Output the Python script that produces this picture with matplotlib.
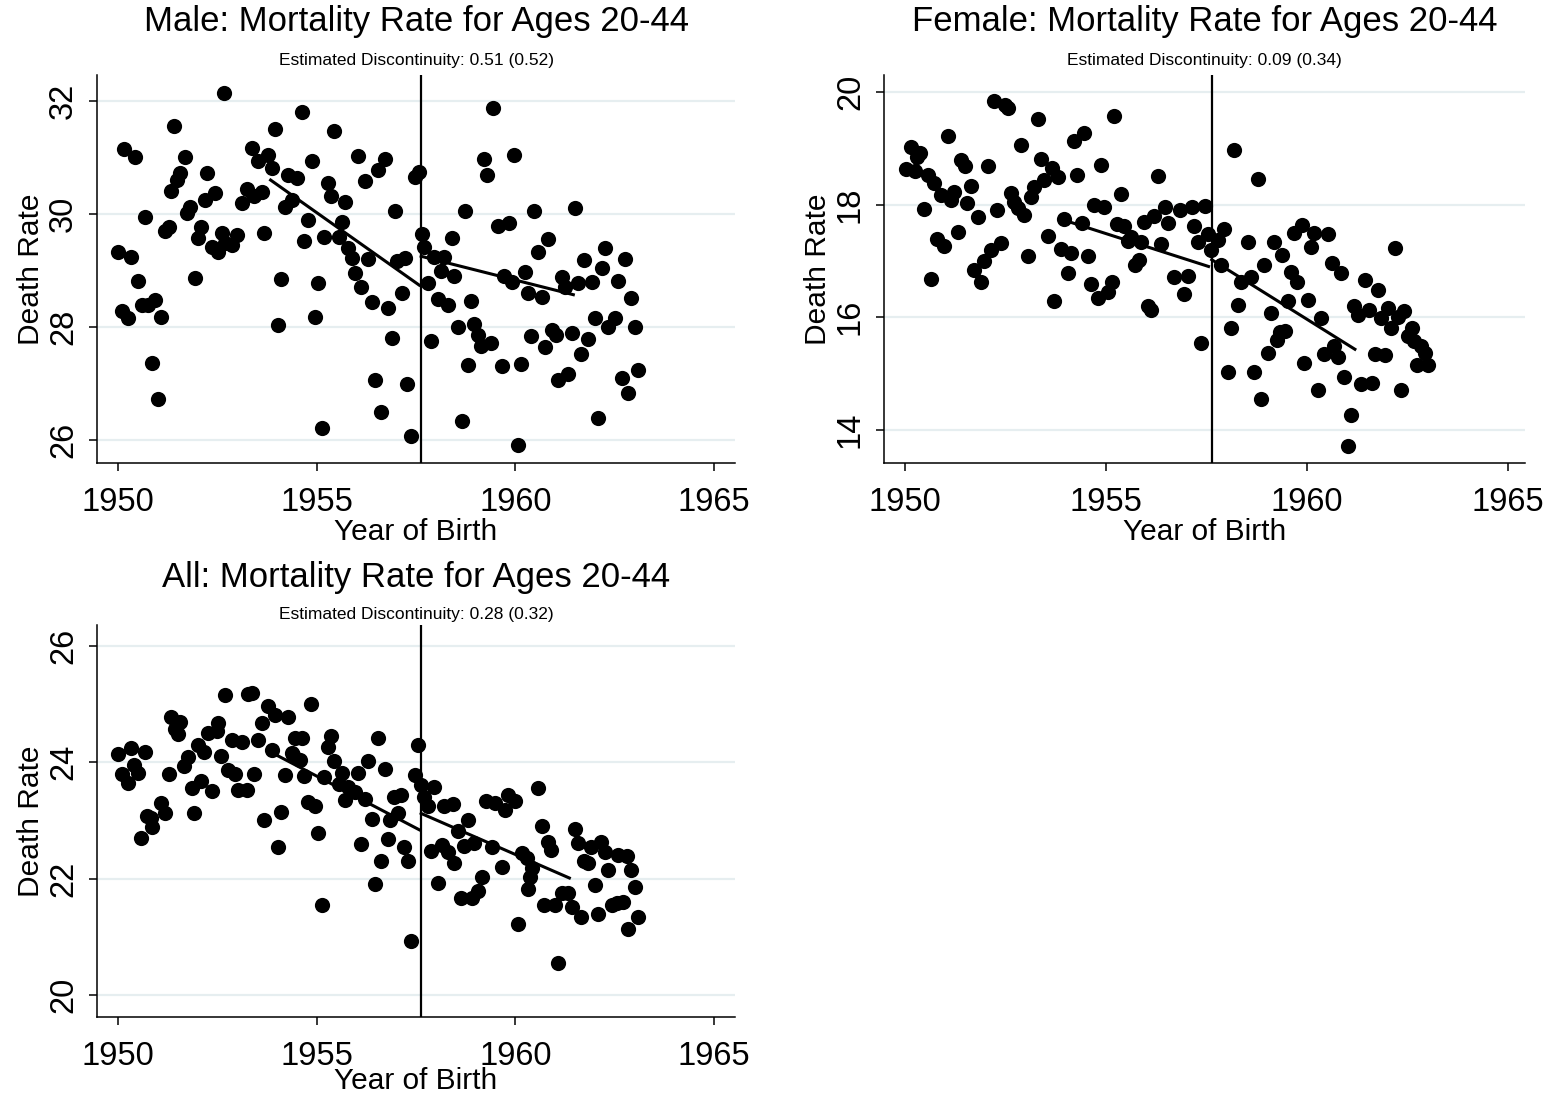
import matplotlib
matplotlib.use("Agg")
import matplotlib.pyplot as plt

plt.rcParams['font.family'] = ['Liberation Sans', 'DejaVu Sans']

# ---------------- data ----------------
male_x = [1950.0, 1950.09, 1950.16, 1950.26, 1950.32, 1950.43, 1950.51, 1950.60, 1950.68, 1950.76,
          1950.85, 1950.93, 1951.0, 1951.09, 1951.18, 1951.29, 1951.33, 1951.42, 1951.48, 1951.56,
          1951.69, 1951.74, 1951.81, 1951.94, 1952.0, 1952.08, 1952.19, 1952.25, 1952.36, 1952.44,
          1952.52, 1952.61, 1952.67, 1952.69, 1952.86, 1953.0, 1953.11, 1953.24, 1953.36, 1953.41,
          1953.53, 1953.63, 1953.68, 1953.78, 1953.87, 1953.95, 1954.03, 1954.1, 1954.2, 1954.29,
          1954.37, 1954.5, 1954.62, 1954.69, 1954.79, 1954.87, 1954.96, 1955.04, 1955.13, 1955.19,
          1955.29, 1955.36, 1955.44, 1955.55, 1955.63, 1955.71, 1955.8, 1955.88, 1955.97, 1956.05,
          1956.12, 1956.22, 1956.3, 1956.39, 1956.47, 1956.54, 1956.62, 1956.72, 1956.79, 1956.89,
          1956.97, 1957.01, 1957.14, 1957.22, 1957.28, 1957.37, 1957.48, 1957.58, 1957.64, 1957.71,
          1957.79, 1957.88, 1957.96, 1958.05, 1958.13, 1958.21, 1958.31, 1958.4, 1958.46, 1958.55,
          1958.65, 1958.73, 1958.82, 1958.89, 1958.97, 1959.07, 1959.14, 1959.22, 1959.28, 1959.45,
          1959.4, 1959.57, 1959.66, 1959.72, 1959.84, 1959.91, 1959.97, 1960.08, 1960.14, 1960.24,
          1960.33, 1960.40, 1960.48, 1960.56, 1960.66, 1960.75, 1960.83, 1960.92, 1961.02, 1961.08,
          1961.17, 1961.25, 1961.33, 1961.42, 1961.5, 1961.59, 1961.65, 1961.74, 1961.84, 1961.92,
          1962.01, 1962.09, 1962.17, 1962.26, 1962.34, 1962.51, 1962.59, 1962.68, 1962.76, 1962.84,
          1962.91, 1963.01, 1963.1]
male_y = [29.33, 28.29, 31.15, 28.16, 29.24, 31.0, 28.81, 28.39, 29.94, 28.38,
          27.36, 28.48, 26.72, 28.17, 29.70, 29.76, 30.41, 31.55, 30.6, 30.72,
          31.0, 30.01, 30.12, 28.87, 29.58, 29.76, 30.24, 30.72, 29.42, 30.37,
          29.33, 29.67, 32.15, 29.48, 29.45, 29.63, 30.2, 30.45, 31.17, 30.31,
          30.93, 30.38, 29.66, 31.04, 30.81, 31.50, 28.04, 28.84, 30.13, 30.69,
          30.25, 30.63, 31.81, 29.52, 29.89, 30.94, 28.18, 28.78, 26.21, 29.60,
          30.54, 30.32, 31.47, 29.59, 29.85, 30.22, 29.39, 29.22, 28.96, 31.03,
          28.7, 30.58, 29.2, 28.44, 27.06, 30.78, 26.49, 30.97, 28.33, 27.81,
          30.05, 29.16, 28.60, 29.22, 26.99, 26.06, 30.66, 30.74, 29.65, 29.42,
          28.77, 27.75, 29.24, 28.5, 28.99, 29.24, 28.39, 29.57, 28.9, 27.99,
          26.34, 30.05, 27.32, 28.45, 28.05, 27.86, 27.67, 30.97, 30.69, 31.87,
          27.71, 29.79, 27.30, 28.9, 29.84, 28.80, 31.04, 25.90, 27.35, 28.98,
          28.6, 27.83, 30.05, 29.33, 28.53, 27.64, 29.55, 27.95, 27.86, 27.06,
          28.89, 28.71, 27.16, 27.89, 30.10, 28.78, 27.52, 29.19, 27.78, 28.80,
          28.15, 26.38, 29.05, 29.40, 28.0, 28.15, 28.81, 27.09, 29.20, 26.83,
          28.51, 27.99, 27.23]

female_x = [1950.02, 1950.15, 1950.25, 1950.29, 1950.37, 1950.47, 1950.58, 1950.65, 1950.73, 1950.81,
            1950.9, 1950.98, 1951.06, 1951.14, 1951.23, 1951.31, 1951.39, 1951.49, 1951.55, 1951.64,
            1951.72, 1951.81, 1951.89, 1951.97, 1952.06, 1952.14, 1952.22, 1952.30, 1952.39, 1952.49,
            1952.57, 1952.64, 1952.72, 1952.82, 1952.89, 1952.97, 1953.05, 1953.13, 1953.22, 1953.30,
            1953.38, 1953.47, 1953.55, 1953.65, 1953.71, 1953.81, 1953.87, 1953.96, 1954.06, 1954.13,
            1954.21, 1954.29, 1954.40, 1954.46, 1954.56, 1954.63, 1954.71, 1954.81, 1954.88, 1954.96,
            1955.06, 1955.14, 1955.21, 1955.27, 1955.37, 1955.46, 1955.54, 1955.62, 1955.71, 1955.81,
            1955.87, 1955.95, 1956.04, 1956.12, 1956.2, 1956.29, 1956.37, 1956.47, 1956.53, 1956.70,
            1956.84, 1956.95, 1957.03, 1957.13, 1957.20, 1957.28, 1957.36, 1957.45, 1957.53, 1957.61,
            1957.78, 1957.86, 1957.94, 1958.03, 1958.11, 1958.19, 1958.29, 1958.36, 1958.53, 1958.61,
            1958.69, 1958.77, 1958.86, 1958.94, 1959.02, 1959.10, 1959.19, 1959.25, 1959.33, 1959.37,
            1959.45, 1959.52, 1959.60, 1959.68, 1959.74, 1959.87, 1959.93, 1960.02, 1960.10, 1960.18,
            1960.27, 1960.35, 1960.43, 1960.51, 1960.61, 1960.68, 1960.78, 1960.85, 1960.93, 1961.01,
            1961.09, 1961.18, 1961.26, 1961.34, 1961.44, 1961.53, 1961.61, 1961.68, 1961.76, 1961.84,
            1961.94, 1962.01, 1962.09, 1962.19, 1962.26, 1962.34, 1962.42, 1962.50, 1962.60, 1962.67,
            1962.73, 1962.84, 1962.94, 1963.02]
female_y = [18.63, 19.03, 18.59, 18.84, 18.91, 17.92, 18.53, 16.68, 18.39, 17.38,
            18.17, 17.27, 19.21, 18.08, 18.23, 17.51, 18.79, 18.69, 18.03, 18.33,
            16.83, 17.77, 16.63, 17.0, 18.69, 17.20, 19.83, 17.91, 17.32, 19.77,
            19.71, 18.20, 18.05, 17.93, 19.06, 17.82, 17.09, 18.14, 18.31, 19.52,
            18.80, 18.43, 17.44, 18.65, 16.29, 18.49, 17.21, 17.74, 16.78, 17.14,
            19.12, 18.53, 17.67, 19.27, 17.08, 16.59, 18.0, 16.34, 18.70, 17.95,
            16.44, 16.63, 19.57, 17.66, 18.19, 17.62, 17.36, 17.43, 16.93, 17.02,
            17.33, 17.69, 16.19, 16.13, 17.80, 18.51, 17.30, 17.95, 17.68, 16.71,
            17.91, 16.41, 16.73, 17.95, 17.61, 17.34, 15.54, 17.98, 17.47, 17.19,
            17.37, 16.92, 17.56, 15.02, 15.81, 18.96, 16.22, 16.63, 17.34, 16.72,
            15.02, 18.45, 14.54, 16.92, 15.36, 16.07, 17.34, 15.60, 15.74, 17.11,
            15.76, 16.29, 16.81, 17.49, 16.63, 17.64, 15.19, 16.31, 17.24, 17.49,
            14.70, 15.98, 15.35, 17.48, 16.96, 15.48, 15.29, 16.78, 14.93, 13.72,
            14.26, 16.19, 16.04, 14.82, 16.66, 16.13, 14.83, 15.35, 16.48, 15.99,
            15.32, 16.16, 15.80, 17.23, 16.01, 14.70, 16.11, 15.66, 15.80, 15.57,
            15.15, 15.48, 15.37, 15.15]

all_x = [1950.01, 1950.09, 1950.24, 1950.33, 1950.41, 1950.51, 1950.58, 1950.68, 1950.72, 1950.83,
         1950.85, 1951.08, 1951.18, 1951.27, 1951.33, 1951.43, 1951.50, 1951.56, 1951.67, 1951.77,
         1951.85, 1951.92, 1952.0, 1952.09, 1952.17, 1952.27, 1952.36, 1952.48, 1952.52, 1952.59,
         1952.68, 1952.78, 1952.86, 1952.95, 1953.01, 1953.11, 1953.24, 1953.26, 1953.36, 1953.43,
         1953.53, 1953.62, 1953.68, 1953.78, 1953.87, 1953.95, 1954.03, 1954.10, 1954.19, 1954.29,
         1954.37, 1954.41, 1954.46, 1954.58, 1954.62, 1954.69, 1954.77, 1954.86, 1954.96, 1955.04,
         1955.13, 1955.19, 1955.28, 1955.36, 1955.44, 1955.55, 1955.63, 1955.72, 1955.8, 1955.97,
         1956.05, 1956.12, 1956.22, 1956.3, 1956.39, 1956.47, 1956.54, 1956.62, 1956.72, 1956.79,
         1956.85, 1956.95, 1957.04, 1957.12, 1957.21, 1957.29, 1957.37, 1957.48, 1957.56, 1957.63,
         1957.71, 1957.79, 1957.88, 1957.96, 1958.05, 1958.15, 1958.21, 1958.31, 1958.42, 1958.46,
         1958.55, 1958.63, 1958.72, 1958.82, 1958.9, 1958.97, 1959.05, 1959.15, 1959.25, 1959.41,
         1959.49, 1959.66, 1959.74, 1959.82, 1959.99, 1960.08, 1960.16, 1960.29, 1960.33, 1960.37,
         1960.41, 1960.56, 1960.66, 1960.73, 1960.83, 1960.90, 1961.0, 1961.08, 1961.17, 1961.33,
         1961.42, 1961.50, 1961.57, 1961.65, 1961.74, 1961.84, 1961.9, 1962.01, 1962.09, 1962.16,
         1962.26, 1962.34, 1962.43, 1962.55, 1962.59, 1962.72, 1962.80, 1962.84, 1962.91, 1963.01,
         1963.10]
all_y = [24.14, 23.80, 23.64, 24.24, 23.95, 23.81, 22.69, 24.17, 23.07, 23.05,
         22.89, 23.30, 23.12, 23.80, 24.77, 24.57, 24.48, 24.70, 23.94, 24.09,
         23.55, 23.12, 24.30, 23.67, 24.18, 24.50, 23.51, 24.53, 24.68, 24.11,
         25.16, 23.87, 24.38, 23.80, 23.52, 24.35, 23.52, 25.17, 25.19, 23.79,
         24.38, 24.68, 23.0, 24.96, 24.21, 24.81, 22.55, 23.15, 23.78, 24.78,
         24.16, 24.13, 24.41, 24.04, 24.41, 23.77, 23.32, 25.01, 23.24, 22.79,
         21.55, 23.74, 24.27, 24.45, 24.02, 23.63, 23.81, 23.35, 23.57, 23.49,
         23.81, 22.59, 23.36, 24.02, 23.02, 21.91, 24.42, 22.30, 23.89, 22.68,
         23.01, 23.41, 23.13, 23.44, 22.55, 22.30, 20.93, 23.78, 24.30, 23.61,
         23.41, 23.24, 22.48, 23.58, 21.93, 22.58, 23.25, 22.46, 23.28, 22.26,
         22.81, 21.67, 22.56, 23.01, 21.66, 22.62, 21.78, 22.02, 23.34, 22.55,
         23.30, 22.20, 23.18, 23.44, 23.34, 21.22, 22.44, 22.36, 21.82, 22.03,
         22.18, 23.56, 22.91, 21.54, 22.63, 22.49, 21.55, 20.55, 21.75, 21.75,
         21.51, 22.85, 22.62, 21.34, 22.30, 22.27, 22.55, 21.89, 21.39, 22.63,
         22.45, 22.15, 21.55, 21.58, 22.41, 21.59, 22.38, 21.13, 22.15, 21.85,
         21.34]

cutoff = 1957.625

male_fit_left_x = [1953.84, 1957.58]
male_fit_left_y = [30.60, 28.74]
male_fit_right_x = [1957.63, 1961.46]
male_fit_right_y = [29.25, 28.57]

female_fit_left_x = [1953.88, 1957.55]
female_fit_left_y = [17.74, 16.90]
female_fit_right_x = [1957.63, 1961.19]
female_fit_right_y = [17.02, 15.43]

all_fit_left_x = [1953.83, 1957.58]
all_fit_left_y = [24.18, 22.84]
all_fit_right_x = [1957.63, 1961.36]
all_fit_right_y = [23.12, 22.01]

titles = ["Male: Mortality Rate for Ages 20-44",
          "Female: Mortality Rate for Ages 20-44",
          "All: Mortality Rate for Ages 20-44"]
subtitles = ["Estimated Discontinuity: 0.51 (0.52)",
             "Estimated Discontinuity: 0.09 (0.34)",
             "Estimated Discontinuity: 0.28 (0.32)"]
x_ticks = [1950, 1955, 1960, 1965]
male_yticks = [26, 28, 30, 32]
female_yticks = [14, 16, 18, 20]
all_yticks = [20, 22, 24, 26]

# ---------------- figure ----------------
W, H = 1545, 1094
fig = plt.figure(figsize=(W / 100, H / 100), dpi=100)
fig.patch.set_facecolor('white')


def px_axes(left, top, right, bottom):
    return fig.add_axes([left / W, 1 - bottom / H, (right - left) / W, (bottom - top) / H])


panels = [
    dict(rect=(97, 75, 735, 463), x=male_x, y=male_y, yt=male_yticks,
         xlim=(1949.47, 1965.53), ylim=(25.59, 32.46),
         fl=(male_fit_left_x, male_fit_left_y), fr=(male_fit_right_x, male_fit_right_y),
         title_y=22, sub_y=60, xlpad=0),
    dict(rect=(884, 75, 1525, 463), x=female_x, y=female_y, yt=female_yticks,
         xlim=(1949.48, 1965.42), ylim=(13.41, 20.30),
         fl=(female_fit_left_x, female_fit_left_y), fr=(female_fit_right_x, female_fit_right_y),
         title_y=22, sub_y=60, xlpad=0),
    dict(rect=(97, 625, 735, 1017), x=all_x, y=all_y, yt=all_yticks,
         xlim=(1949.47, 1965.53), ylim=(19.62, 26.36),
         fl=(all_fit_left_x, all_fit_left_y), fr=(all_fit_right_x, all_fit_right_y),
         title_y=577, sub_y=614, xlpad=-3.5),
]

for i, p in enumerate(panels):
    l, t, r, b = p['rect']
    ax = px_axes(l, t, r, b)
    ax.set_xlim(*p['xlim'])
    ax.set_ylim(*p['ylim'])
    for s in ['top', 'right']:
        ax.spines[s].set_visible(False)
    for s in ['left', 'bottom']:
        ax.spines[s].set_linewidth(1.1)
    ax.set_xticks(x_ticks)
    ax.set_yticks(p['yt'])
    ax.tick_params(axis='both', direction='out', length=6, width=1.1, labelsize=23.5, colors='black')
    ax.tick_params(axis='x', pad=11.5)
    ax.tick_params(axis='y', pad=7)
    for lab in ax.get_yticklabels():
        lab.set_rotation(90)
        lab.set_va('center')
    ax.grid(axis='y', color='#E6EEF0', linewidth=1.6, zorder=0)
    ax.set_axisbelow(True)
    ax.scatter(p['x'], p['y'], s=120, color='black', linewidths=0, zorder=3)
    ax.plot(p['fl'][0], p['fl'][1], color='black', lw=2.2, zorder=4)
    ax.plot(p['fr'][0], p['fr'][1], color='black', lw=2.2, zorder=4)
    ax.axvline(cutoff, color='black', lw=1.6, zorder=4)
    ax.set_xlabel('Year of Birth', fontsize=21.5, labelpad=p['xlpad'])
    ax.set_ylabel('Death Rate', fontsize=21.5, labelpad=2)
    cx = (l + r) / 2 / W
    fig.text(cx, 1 - p['title_y'] / H, titles[i], ha='center', va='center', fontsize=25)
    fig.text(cx, 1 - p['sub_y'] / H, subtitles[i], ha='center', va='center', fontsize=12.5)

fig.savefig('out.png', dpi=100, facecolor='white')
